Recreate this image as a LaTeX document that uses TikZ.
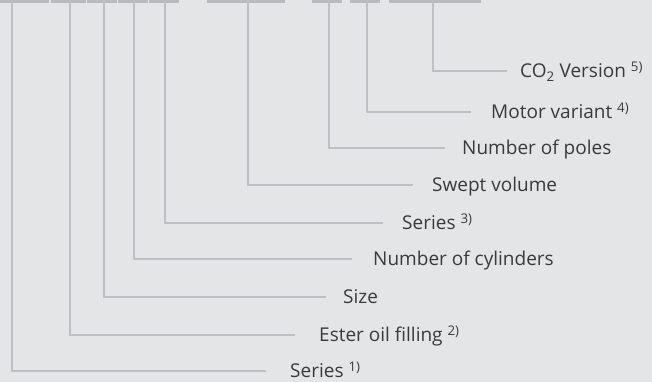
\documentclass[tikz,border=0pt]{standalone}
\usepackage{fontspec}
\setmainfont{Open Sans}
\usepackage{xcolor}
\usepackage{tikz}
\usetikzlibrary{positioning}
\definecolor{paper}{HTML}{E4E5E7}
\definecolor{codebar}{HTML}{B9BABD}
\definecolor{leadline}{HTML}{BEBFC2}
\definecolor{labeltext}{HTML}{3A3A3A}

\begin{document}
\begin{tikzpicture}[
    x=1pt,y=-1pt,
    font=\fontsize{19}{22}\selectfont,
    bar/.style={fill=codebar,draw=none},
    lead/.style={draw=leadline,line width=2pt},
    lbl/.style={anchor=west,inner sep=0pt,text=labeltext,text height=13.6pt,text depth=0pt}
]
\fill[paper] (0,0) rectangle (652,382);
\useasboundingbox (0,0) rectangle (652,382);
% type code fields
\foreach \xa/\xb in {0/49,51/86,87/117,118/148,149/179,207/285,312/342,350/380,389/481}
  \fill[bar] (\xa,0) rectangle (\xb,3);
\coordinate (f1) at (11.5,0);
\coordinate (f2) at (69.5,0);
\coordinate (f3) at (104,0);
\coordinate (f4) at (134,0);
\coordinate (f5) at (165,0);
\coordinate (f6) at (247.5,0);
\coordinate (f7) at (328.5,0);
\coordinate (f8) at (366.5,0);
\coordinate (f9) at (432.5,0);
% labels
\node[lbl] (co2) at (520,71) {CO\textsubscript{2} Version \textsuperscript{5)}};
\node[lbl] (motor) at (491,112) {Motor variant \textsuperscript{4)}};
\node[lbl] (poles) at (462,148) {Number of poles};
\node[lbl] (swept) at (432,185) {Swept volume};
\node[lbl] (series3) at (402,223) {Series \textsuperscript{3)}};
\node[lbl] (cyl) at (373,259) {Number of cylinders};
\node[lbl] (size) at (343,297) {Size};
\node[lbl] (ester) at (319,335) {Ester oil filling \textsuperscript{2)}};
\node[lbl] (series1) at (290,371) {Series \textsuperscript{1)}};
% leads
\draw[lead,shorten >=13pt] (f9) |- (co2);
\draw[lead,shorten >=20pt] (f8) |- (motor);
\draw[lead,shorten >=17pt] (f7) |- (poles);
\draw[lead,shorten >=19pt] (f6) |- (swept);
\draw[lead,shorten >=19pt] (f5) |- (series3);
\draw[lead,shorten >=21pt] (f4) |- (cyl);
\draw[lead,shorten >=17pt] (f3) |- (size);
\draw[lead,shorten >=24pt] (f2) |- (ester);
\draw[lead,shorten >=24pt] (f1) |- (series1);
\end{tikzpicture}
\end{document}
